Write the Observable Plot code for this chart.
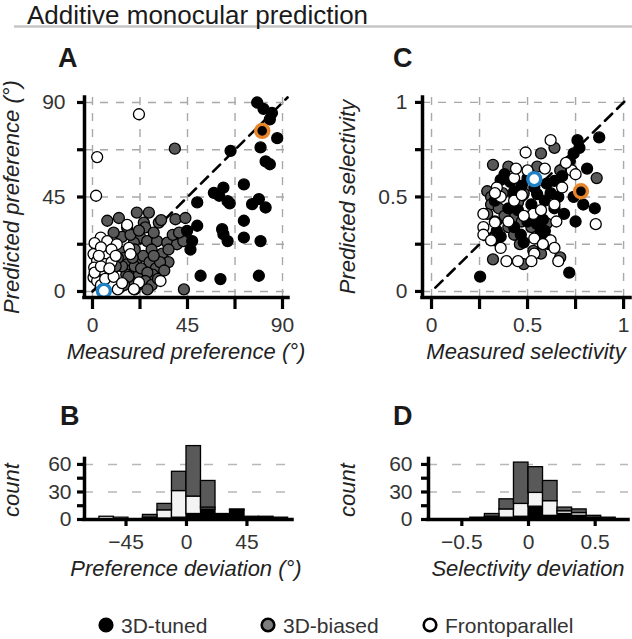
<!DOCTYPE html>
<html><head><meta charset="utf-8">
<script src="https://cdn.jsdelivr.net/npm/d3@7"></script>
<script src="https://cdn.jsdelivr.net/npm/@observablehq/plot@0.6"></script>
<style>
body{margin:0;background:#fff}
#fig{position:relative;width:632px;height:639px;overflow:hidden;background:#fff}
#fig svg{position:absolute;left:0;top:0}
</style></head><body><div id="fig"></div>
<script>
// ---------- Data ----------
const categories = ["3D-tuned", "3D-biased", "Frontoparallel"];

// Panel A: measured vs predicted preference (deg)
const prefTuned = [[78,90],[81,87],[85,85],[84,82],[87.5,73],[79.6,68.6],[65.4,67],[82,62],[84,60.6],[71.7,51],[62,49.5],[57.5,47],[60,45.6],[64,43],[65,42],[49.6,42.4],[78.8,44],[75.6,41.6],[82,40],[71.7,33.7],[49.6,31.3],[44.8,28.9],[61.4,29.7],[62,27.3],[64,24],[71.7,25.7],[79.6,24],[47.2,24],[46.4,20],[51.2,7.5],[60.6,5.9],[78.8,7.5]];
const prefBiased = [[39,68],[7,33.7],[12.5,35],[21,37.6],[26.7,37.6],[31.4,32.8],[32.5,34],[39.3,34.4],[44,35],[24.3,32.8],[25,30.5],[16.4,30.5],[22.7,25.7],[19.6,23.3],[25.9,24],[30.6,24],[35.4,23.3],[40,22.5],[43,24],[13.5,19],[15,16],[16.5,13],[18,10],[21,15],[24,17],[27,14],[30,11],[28.5,8],[22,8],[16,8],[18,5],[22,3.5],[13,2],[10,5],[9,10],[43.3,1],[33,18],[36,14],[28,20],[20,20],[14,26],[10,28],[14,12],[17,7],[20,12],[23,11],[26,9],[25,5],[28,3],[31,6],[32,14],[34,10],[29,17],[19,16],[12,16],[15,3],[20,1],[26,1],[11,12],[36,20],[38,27],[41,28],[29,28],[18,27],[22,29]];
const prefFronto = [[22,84.4],[2.2,64],[1.7,45.6],[16.4,31.7],[3.9,25.7],[7,24],[11.5,22.5],[2.2,20.8],[7,17.8],[0.5,17.8],[2.2,14.6],[0.8,11.4],[5.5,9.8],[8.5,8.3],[0.5,6.7],[2.2,5],[9.3,3.5],[3.9,1.9],[17.3,20.8],[18,17.8],[32.2,5],[22,4.3],[19.6,1.1],[6,13],[9,14],[4,3],[1,23],[4,21],[9,20],[6,6],[10,7],[1,9],[4,12],[8,11],[11,17],[3,17],[12,1],[14,4]];
const prefExampleTuned = [[80.4,76.5]];
const prefExampleFronto = [[5.4,0.3]];

// Panel C: measured vs predicted selectivity
const selTuned = [[0.253,0.078],[0.717,0.1],[0.873,0.815],[0.76,0.8],[0.77,0.76],[0.74,0.73],[0.72,0.69],[0.81,0.65],[0.68,0.61],[0.64,0.585],[0.6,0.57],[0.74,0.5],[0.79,0.46],[0.85,0.44],[0.75,0.37],[0.69,0.41],[0.64,0.44],[0.59,0.48],[0.55,0.515],[0.535,0.55],[0.38,0.62],[0.36,0.59],[0.41,0.58],[0.43,0.53],[0.43,0.51],[0.33,0.48],[0.4,0.44],[0.45,0.43],[0.5,0.37],[0.55,0.356],[0.59,0.32],[0.6,0.28],[0.61,0.25],[0.57,0.31],[0.34,0.32],[0.36,0.29],[0.33,0.27],[0.43,0.34],[0.465,0.3],[0.48,0.26],[0.52,0.46],[0.56,0.42],[0.62,0.52],[0.66,0.5],[0.47,0.56],[0.5,0.6],[0.58,0.38]];
const selBiased = [[0.32,0.67],[0.4,0.66],[0.57,0.73],[0.64,0.76],[0.67,0.64],[0.29,0.53],[0.31,0.5],[0.31,0.46],[0.29,0.41],[0.33,0.37],[0.43,0.39],[0.4,0.34],[0.47,0.37],[0.86,0.6],[0.43,0.3],[0.53,0.215],[0.57,0.2],[0.32,0.17],[0.48,0.145],[0.67,0.18],[0.52,0.34],[0.37,0.52],[0.45,0.47],[0.35,0.44],[0.38,0.4],[0.48,0.52],[0.55,0.66],[0.46,0.25],[0.6,0.36]];
const selFronto = [[0.62,0.8],[0.49,0.735],[0.59,0.65],[0.5,0.64],[0.43,0.6],[0.34,0.55],[0.36,0.5],[0.33,0.52],[0.73,0.64],[0.75,0.62],[0.27,0.41],[0.27,0.34],[0.33,0.365],[0.4,0.37],[0.27,0.3],[0.31,0.27],[0.53,0.41],[0.57,0.43],[0.64,0.46],[0.65,0.37],[0.855,0.356],[0.535,0.28],[0.62,0.27],[0.64,0.23],[0.535,0.2],[0.39,0.16],[0.45,0.16],[0.52,0.16],[0.66,0.16],[0.43,0.48],[0.47,0.51],[0.44,0.65],[0.68,0.55],[0.7,0.68],[0.48,0.4],[0.36,0.23],[0.58,0.25]];
const selExampleTuned = [[0.778,0.53]];
const selExampleFronto = [[0.535,0.594]];

// Panel B: preference deviation histogram (bin starts, width, counts)
const prefDevBinStart = [-64.8,-54,-43.2,-32.4,-21.6,-10.8,0,10.8,21.6,32.4,43.2,54,64.8];
const prefDevBinWidth = 10.8;
const prefDevTuned  = [0,0,0,1,1,2,6,11,4,10,3,3,2];
const prefDevFronto = [3,2,0,1,9,29,19,2,1,0,0,0,0];
const prefDevBiased = [0,0,0,3,7,21,55,29,1,1,0,0,0];

// Panel D: selectivity deviation histogram
const selDevBinStart = [-0.436,-0.327,-0.218,-0.109,0,0.109,0.218,0.327,0.436,0.545];
const selDevBinWidth = 0.109;
const selDevTuned  = [1,2,2,3,14,4,6,4,1,2];
const selDevFronto = [0,1,9,14,15,16,3,3,1,0];
const selDevBiased = [1,3,11,45,28,22,4,4,2,0];

// Ticks
const prefTicks = [0,22.5,45,67.5,90];
const prefTickLabels = ["0","","45","","90"];
const selTicks = [0,0.25,0.5,0.75,1];
const selTickLabels = ["0","","0.5","","1"];
const prefDevTicks = [-45,0,45];
const prefDevTickLabels = ["\u221245","0","45"];
const selDevTicks = [-0.5,0,0.5];
const selDevTickLabels = ["\u22120.5","0","0.5"];
const countTicks = [0,15,30,45,60];
const countTickLabels = ["0","","30","","60"];
const countGrid = [30,60];
const countAxisTop = 66;

// ---------- Style ----------
const W = 632, H = 639;
const colTuned = "#000", colBiased = "#595959", colFronto = "#fff";
const colBarFronto = "#f3f3f3";
const orange = "#e8852a", blue = "#1f7fc4";
const fig = document.getElementById("fig");
const baseStyle = {background:"transparent", overflow:"visible",
  fontFamily:"'Liberation Sans Narrow','Liberation Sans',Arial,sans-serif", fontSize:"21px", color:"#000"};

function fmt(ticks, labels){ return d => { const i = ticks.findIndex(t => Math.abs(t-d) < 1e-9); return i < 0 ? "" : labels[i]; }; }

function frame(p){
  return Plot.plot({
    width: W, height: H,
    marginLeft: p.left, marginRight: W - p.right, marginTop: p.top, marginBottom: H - p.bottom,
    x: {domain: p.xDomain}, y: {domain: p.yDomain},
    style: baseStyle,
    marks: [
      ...p.under,
      Plot.ruleX([p.xDomain[0]], {y1: p.yAxis[0], y2: p.yAxis[1], stroke:"#000", strokeWidth:3.5, strokeLinecap:"square"}),
      Plot.ruleY([p.yDomain[0]], {x1: p.xDomain[0], x2: p.xDomain[1], stroke:"#000", strokeWidth:3.5, strokeLinecap:"square"}),
      Plot.axisX({ticks: p.xTicks, tickFormat: fmt(p.xTicks, p.xLabels), tickSize: p.xTickSize, tickPadding: p.xTickPad, strokeWidth:3.2, fill:"#333", label:null}),
      Plot.axisY({ticks: p.yTicks, tickFormat: fmt(p.yTicks, p.yLabels), tickSize: p.yTickSize, tickPadding: p.yTickPad, strokeWidth:3.2, fill:"#333", label:null})
    ]
  });
}

const gx = d => d[0], gy = d => d[1];
function dots(data, fill){ return Plot.dot(data, {x: gx, y: gy, r: 5.5, fill, stroke:"#000", strokeWidth:1.3}); }
function ring(data, fill, stroke){ return Plot.dot(data, {x: gx, y: gy, r: 6.5, fill, stroke, strokeWidth:3.4}); }

// Panel A
const aX = [-3.79, 92.84], aY = [-2.86, 92.38];
fig.appendChild(frame({
  left:84, right:288, top:97, bottom:297, xDomain:aX, yDomain:aY, yAxis:aY,
  xTicks:prefTicks, xLabels:prefTickLabels, yTicks:prefTicks, yLabels:prefTickLabels,
  xTickSize:12, xTickPad:8, yTickSize:7, yTickPad:12,
  under:[
    Plot.gridX({ticks:prefTicks, stroke:"#a8a8a8", strokeOpacity:1, strokeWidth:1.4, strokeDasharray:"8,8"}),
    Plot.gridY({ticks:prefTicks, stroke:"#a8a8a8", strokeOpacity:1, strokeWidth:1.4, strokeDasharray:"8,8"}),
    Plot.line([[0,0],[aY[1],aY[1]]], {x:gx, y:gy, stroke:"#000", strokeWidth:2.6, strokeDasharray:"10,7"}),
    dots(prefBiased, colBiased), dots(prefFronto, colFronto), dots(prefTuned, colTuned),
    ring(prefExampleTuned, colTuned, orange), ring(prefExampleFronto, colFronto, blue)
  ]
}));

// Panel C
const cX = [-0.047, 1.036], cY = [-0.032, 1.026];
fig.appendChild(frame({
  left:422, right:630, top:97, bottom:297, xDomain:cX, yDomain:cY, yAxis:cY,
  xTicks:selTicks, xLabels:selTickLabels, yTicks:selTicks, yLabels:selTickLabels,
  xTickSize:12, xTickPad:8, yTickSize:7, yTickPad:8,
  under:[
    Plot.gridX({ticks:selTicks, stroke:"#a8a8a8", strokeOpacity:1, strokeWidth:1.4, strokeDasharray:"8,8"}),
    Plot.gridY({ticks:selTicks, stroke:"#a8a8a8", strokeOpacity:1, strokeWidth:1.4, strokeDasharray:"8,8"}),
    Plot.line([[0.02,0.02],[cY[1],cY[1]]], {x:gx, y:gy, stroke:"#000", strokeWidth:2.6, strokeDasharray:"10,7"}),
    dots(selBiased, colBiased), dots(selTuned, colTuned), dots(selFronto, colFronto),
    ring(selExampleTuned, colTuned, orange), ring(selExampleFronto, colFronto, blue)
  ]
}));

// Histogram helper: stacked tuned / frontoparallel / biased
function stackRows(starts, width, series){
  const rows = [];
  starts.forEach((s, i) => {
    let acc = 0;
    series.forEach(([name, counts, fill]) => {
      rows.push({name, fill, x1:s, x2:s+width, y1:acc, y2:acc+counts[i]});
      acc += counts[i];
    });
  });
  return rows;
}
function bars(rows){
  return [colTuned, colBarFronto, colBiased].map(f =>
    Plot.rect(rows.filter(r => r.fill === f && r.y2 > r.y1), {x1:"x1", x2:"x2", y1:"y1", y2:"y2", fill:f, stroke:"#000", strokeWidth:1.3}));
}

// Panel B
const bX = [-75.9, 78.9], bY = [0, 85];
const bRows = stackRows(prefDevBinStart, prefDevBinWidth,
  [["3D-tuned", prefDevTuned, colTuned], ["Frontoparallel", prefDevFronto, colBarFronto], ["3D-biased", prefDevBiased, colBiased]]);
fig.appendChild(frame({
  left:84, right:292, top:441, bottom:519, xDomain:bX, yDomain:bY, yAxis:[0, countAxisTop],
  xTicks:prefDevTicks, xLabels:prefDevTickLabels, yTicks:countTicks, yLabels:countTickLabels,
  xTickSize:7, xTickPad:8, yTickSize:7, yTickPad:6,
  under:[
    Plot.gridY({ticks:countGrid, stroke:"#b8b8b8", strokeOpacity:1, strokeWidth:1.4, strokeDasharray:"9,15"}),
    ...bars(bRows)
  ]
}));

// Panel D
const dX = [-0.75, 0.75], dY = [0, 85];
const dRows = stackRows(selDevBinStart, selDevBinWidth,
  [["3D-tuned", selDevTuned, colTuned], ["Frontoparallel", selDevFronto, colBarFronto], ["3D-biased", selDevBiased, colBiased]]);
fig.appendChild(frame({
  left:428, right:628, top:441, bottom:519, xDomain:dX, yDomain:dY, yAxis:[0, countAxisTop],
  xTicks:selDevTicks, xLabels:selDevTickLabels, yTicks:countTicks, yLabels:countTickLabels,
  xTickSize:7, xTickPad:8, yTickSize:7, yTickPad:9,
  under:[
    Plot.gridY({ticks:countGrid, stroke:"#b8b8b8", strokeOpacity:1, strokeWidth:1.4, strokeDasharray:"9,15"}),
    ...bars(dRows)
  ]
}));

// ---------- Overlay: title, panel letters, axis titles, legend ----------
const ns = "http://www.w3.org/2000/svg";
const ov = document.createElementNS(ns, "svg");
ov.setAttribute("width", W); ov.setAttribute("height", H);
ov.style.overflow = "visible";
function el(tag, attrs, text){
  const e = document.createElementNS(ns, tag);
  for (const k in attrs) e.setAttribute(k, attrs[k]);
  if (text != null) e.textContent = text;
  ov.appendChild(e); return e;
}
el("line", {x1:14, x2:632, y1:26.5, y2:26.5, stroke:"#c6c6c6", "stroke-width":2.6});
el("text", {x:27, y:23.5, "font-family":"'Liberation Sans',Arial,sans-serif", "font-size":26, fill:"#1a1a1a"}, "Additive monocular prediction");
const letterFont = {"font-family":"'Liberation Sans',Arial,sans-serif", "font-size":27, "font-weight":"bold", fill:"#1a1a1a"};
[["A",58,67],["C",393,67],["B",60,425],["D",393,425]].forEach(([t,x,y]) => el("text", {x, y, ...letterFont}, t));
const labFont = {"font-family":"'Liberation Sans',Arial,sans-serif", "font-size":22, "font-style":"italic", fill:"#222", "text-anchor":"middle"};
el("text", {x:186, y:359, ...labFont}, "Measured preference (\u00b0)");
el("text", {x:526, y:359, ...labFont}, "Measured selectivity");
el("text", {transform:"translate(19,197) rotate(-90)", ...labFont}, "Predicted preference (\u00b0)");
el("text", {transform:"translate(355,197) rotate(-90)", ...labFont}, "Predicted selectivity");
el("text", {transform:"translate(19,490) rotate(-90)", ...labFont}, "count");
el("text", {transform:"translate(355,490) rotate(-90)", ...labFont}, "count");
el("text", {x:186, y:576, ...labFont}, "Preference deviation (\u00b0)");
el("text", {x:528, y:576, ...labFont}, "Selectivity deviation");
const legendFills = ["#000", "#7d7d7d", "#fff"];
const legendX = [106, 268, 430];
categories.forEach((c, i) => {
  el("circle", {cx:legendX[i], cy:625, r:6.3, fill:legendFills[i], stroke:"#000", "stroke-width":2.6});
  el("text", {x:legendX[i]+15, y:633, "font-family":"'Liberation Sans Narrow','Liberation Sans',Arial,sans-serif", "font-size":21, fill:"#333"}, c);
});
fig.appendChild(ov);
</script></body></html>
